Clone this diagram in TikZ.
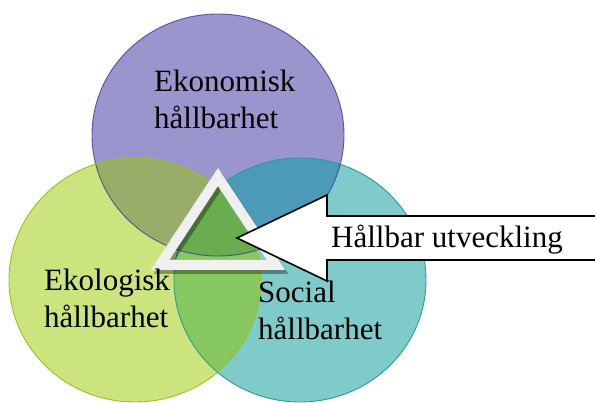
\documentclass[tikz,border=0pt]{standalone}
\usepackage{fontspec}
\setmainfont{Liberation Serif}
\begin{document}
\begin{tikzpicture}[x=1pt,y=-1pt,
  lbl/.style={font=\fontsize{31}{37}\selectfont,align=left,inner sep=0pt,text=black},
  tri/.style={line width=10pt,line join=miter,draw=black!6},
  blockarrow/.style={draw=black,fill=white,line width=1.6pt,line join=miter}]
\definecolor{ekoC}{HTML}{9A95CC}
\definecolor{ekoB}{HTML}{3A3A9A}
\definecolor{ekolC}{HTML}{CCE47E}
\definecolor{ekolB}{HTML}{9CC21E}
\definecolor{socC}{HTML}{7ECBC9}
\definecolor{socB}{HTML}{2A9C9A}
\definecolor{ovTL}{HTML}{98AE68}
\definecolor{ovTR}{HTML}{4A9AB8}
\definecolor{ovLR}{HTML}{88C860}
\definecolor{ovAll}{HTML}{6AAC50}
\def\cTop{(218,135) ellipse [x radius=126,y radius=121]}
\def\cLeft{(135,280) ellipse [x radius=126,y radius=122]}
\def\cRight{(300,280) ellipse [x radius=126,y radius=122]}
\clip (0,0) rectangle (595,403);
\fill[white] (0,0) rectangle (595,403);
\fill[ekoC] \cTop;
\fill[ekolC] \cLeft;
\fill[socC] \cRight;
\begin{scope}\clip \cTop; \fill[ovTL] \cLeft; \fill[ovTR] \cRight;\end{scope}
\begin{scope}\clip \cLeft; \fill[ovLR] \cRight;\end{scope}
\begin{scope}\clip \cTop; \clip \cLeft; \fill[ovAll] \cRight;\end{scope}
\draw[socB,line width=0.9pt] \cRight;
\draw[ekoB,line width=0.9pt,draw opacity=0.8] \cTop;
\draw[ekolB,line width=0.9pt] \cLeft;
% triangle
\coordinate (ta) at (218,177);
\coordinate (tl) at (160,265);
\coordinate (tr) at (276,265);
\draw[tri,draw=black,draw opacity=0.35] ([shift={(3,4)}]ta) -- ([shift={(3,4)}]tl) -- ([shift={(3,4)}]tr) -- cycle;
\draw[tri] (ta) -- (tl) -- (tr) -- cycle;
% arrow
\coordinate (tip) at (237,238);
\draw[blockarrow] (tip) -- (327,195) -- (327,216) -- (600,216) -- (600,260) -- (327,260) -- (327,281) -- cycle;
\node[lbl,anchor=base] (hu) at (447,248) {Hållbar utveckling};
\node[lbl,anchor=base west] (eko) at (154,129) {Ekonomisk\\hållbarhet};
\node[lbl,anchor=base west] (ekol) at (44,328) {Ekologisk\\hållbarhet};
\node[lbl,anchor=base west] (soc) at (258,340) {Social\\hållbarhet};
\end{tikzpicture}
\end{document}
